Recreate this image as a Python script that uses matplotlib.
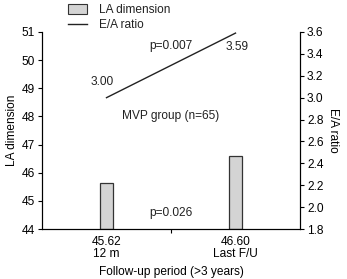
import matplotlib.pyplot as plt
from matplotlib.patches import Patch
from matplotlib.lines import Line2D

plt.rcParams["font.family"] = ["Liberation Sans", "DejaVu Sans"]
plt.rcParams["font.size"] = 8.6
plt.rcParams["text.color"] = "#222222"

# data
periods = ["12 m", "Last F/U"]
la_dim = [45.62, 46.60]
ea_ratio = [3.00, 3.59]
x = [0, 1]

fig = plt.figure(figsize=(3.47, 2.79), dpi=100)
ax = fig.add_axes([42 / 347, 50 / 279, 258 / 347, 197 / 279])

ax.bar(x, [v - 44 for v in la_dim], bottom=44, width=0.1,
       color="#d4d4d4", edgecolor="#333333", linewidth=0.9)
ax.set_xlim(-0.5, 1.5)
ax.set_ylim(44, 51)
ax.set_yticks(range(44, 52))
ax.set_xticks(x)
ax.set_xticklabels([f"{la_dim[i]:.2f}\n{periods[i]}" for i in range(2)], linespacing=1.05)
ax.set_xticks([0.5], minor=True)
ax.tick_params(axis="x", which="major", length=0, pad=5)
ax.tick_params(axis="x", which="minor", direction="out", length=3, width=0.8)
ax.tick_params(axis="y", direction="out", length=3, width=0.8, pad=2)
ax.set_ylabel("LA dimension", labelpad=3)
ax.set_xlabel("Follow-up period (>3 years)", labelpad=4)
ax.spines["top"].set_visible(False)

ax2 = ax.twinx()
ax2.plot(x, ea_ratio, color="#222222", linewidth=1.0)
ax2.set_ylim(1.8, 3.6)
ax2.set_yticks([1.8, 2.0, 2.2, 2.4, 2.6, 2.8, 3.0, 3.2, 3.4, 3.6])
ax2.set_ylabel("E/A ratio", rotation=270, labelpad=11)
ax2.spines["top"].set_visible(False)
ax2.tick_params(direction="out", length=3, width=0.8, pad=2)

for sp in ["left", "bottom", "right"]:
    ax.spines[sp].set_linewidth(0.8)
    ax2.spines[sp].set_linewidth(0.8)

ax2.text(x[0] - 0.03, ea_ratio[0] + 0.09, f"{ea_ratio[0]:.2f}", ha="center", va="bottom")
ax2.text(x[1] + 0.01, ea_ratio[1] - 0.13, f"{ea_ratio[1]:.2f}", ha="center", va="center")
ax2.text(0.5, 3.47, "p=0.007", ha="center", va="center")
ax.text(0.5, 48.0, "MVP group (n=65)", ha="center", va="center")
ax.text(0.5, 44.57, "p=0.026", ha="center", va="center")

handles = [Patch(facecolor="#d4d4d4", edgecolor="#333333", linewidth=0.8),
           Line2D([0], [0], color="#222222", linewidth=1.0)]
fig.legend(handles, ["LA dimension", "E/A ratio"], loc="upper left",
           bbox_to_anchor=(60 / 347, 1.015), frameon=False, handlelength=1.6,
           handleheight=0.9, labelspacing=0.25, handletextpad=1.0, borderpad=0.2,
           fontsize=8.6)

fig.savefig("out.png", dpi=100)
